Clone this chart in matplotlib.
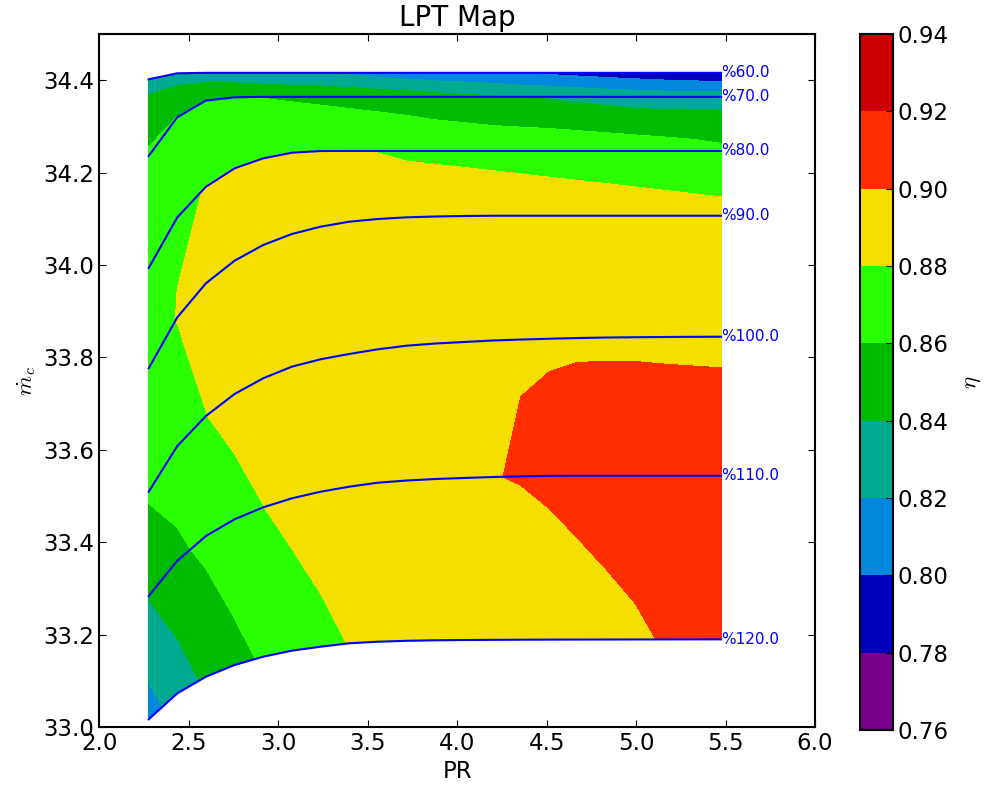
import numpy as np
import matplotlib
matplotlib.use('Agg')
import matplotlib.pyplot as plt

plt.rcParams['font.size'] = 16.5
plt.rcParams['mathtext.fontset'] = 'cm'
plt.rcParams['xtick.direction'] = 'in'
plt.rcParams['ytick.direction'] = 'in'
plt.rcParams['xtick.top'] = True
plt.rcParams['ytick.right'] = True
plt.rcParams['xtick.major.size'] = 5
plt.rcParams['ytick.major.size'] = 5
plt.rcParams['axes.linewidth'] = 1.5

# puntos de cada linea de velocidad (PR comun para todas)
PR = [2.275, 2.435, 2.595, 2.755, 2.915, 3.075, 3.235, 3.395, 3.555, 3.715, 3.875,
      4.035, 4.195, 4.355, 4.515, 4.675, 4.835, 4.995, 5.155, 5.315, 5.475]

speeds = [60.0, 70.0, 80.0, 90.0, 100.0, 110.0, 120.0]

mc_60 = [34.402, 34.415, 34.416, 34.416, 34.416, 34.416, 34.416, 34.416, 34.416, 34.416, 34.416,
         34.416, 34.416, 34.416, 34.416, 34.416, 34.416, 34.416, 34.416, 34.416, 34.416]
mc_70 = [34.236, 34.320, 34.356, 34.363, 34.364, 34.364, 34.364, 34.364, 34.364, 34.364, 34.364,
         34.364, 34.364, 34.364, 34.364, 34.364, 34.364, 34.364, 34.364, 34.364, 34.364]
mc_80 = [33.9935, 34.1032, 34.1695, 34.2093, 34.2309, 34.2431, 34.2468, 34.247, 34.247, 34.247, 34.247,
         34.247, 34.247, 34.247, 34.247, 34.247, 34.247, 34.247, 34.247, 34.247, 34.247]
mc_90 = [33.7764, 33.8868, 33.9604, 34.0093, 34.0433, 34.0671, 34.0829, 34.0937, 34.0996, 34.1032, 34.105,
         34.1061, 34.1067, 34.1067, 34.1067, 34.1067, 34.1067, 34.1067, 34.1067, 34.1067, 34.1067]
mc_100 = [33.5093, 33.6082, 33.6732, 33.7208, 33.7548, 33.7799, 33.7959, 33.8074, 33.8175, 33.8253, 33.8301,
          33.8333, 33.8366, 33.8387, 33.8405, 33.842, 33.8431, 33.8437, 33.8442, 33.8446, 33.8448]
mc_110 = [33.2835, 33.3600, 33.4134, 33.4496, 33.4755, 33.4950, 33.5093, 33.5201, 33.5288, 33.5335, 33.5368,
          33.5390, 33.5411, 33.5426, 33.5437, 33.5439, 33.5439, 33.5439, 33.5439, 33.5439, 33.5439]
mc_120 = [33.0167, 33.0729, 33.1089, 33.1342, 33.1522, 33.1652, 33.1738, 33.1812, 33.1846, 33.1866, 33.1877,
          33.1883, 33.1887, 33.189, 33.1892, 33.1893, 33.1894, 33.1895, 33.1896, 33.1897, 33.1898]

eff_60 = [.834, .832, .8285, .826, .8225, .8205, .8203, .8174, .8125, .809, .8065,
          .805, .8033, .7997, .797, .7945, .792, .7895, .787, .7845, .782]
eff_70 = [.8635, .8605, .8602, .8600, .8595, .8580, .8564, .8544, .8525, .8505, .847,
          .8445, .8415, .8398, .8385, .836, .8335, .8315, .8305, .831, .8315]
eff_80 = [.868, .8788, .8802, .8802, .8802, .8802, .8802, .8803, .8797, .8783, .8777,
          .8771, .8765, .8759, .8752, .8744, .8734, .8720, .8703, .8679, .8646]
eff_90 = [.8734, .8805, .8845, .8865, .888, .889, .8895, .89, .8898, .8895, .889,
          .8885, .888, .8875, .887, .8867, .8865, .8864, .8863, .8863, .8863]
eff_100 = [.8624, .8705, .8798, .8856, .888, .891, .893, .8945, .896, .897, .898,
           .8985, .8993, .89964, .89946, .89934, .89909, .89902, .89879, .89867, .89856]
eff_110 = [.8408, .8557, .865, .8738, .8798, .8854, .8885, .891, .893, .895, .897,
           .8985, .89969, .9005, .9017, .9031, .9043, .9046, .905, .905, .905]
eff_120 = [.8114, .8289, .8433, .8535, .8625, .869, .8755, .8804, .8822, .8841, .8859,
           .8877, .8895, .8914, .8932, .895, .8968, .8987, .9005, .9023, .9042]

levels = [0.76, 0.78, 0.80, 0.82, 0.84, 0.86, 0.88, 0.90, 0.92, 0.94]
colores = ['#770088', '#0000bb', '#0088dd', '#00aa90', '#00bb00',
           '#29ff00', '#f5df00', '#ff2e00', '#cc0000']

mc = np.array([mc_60, mc_70, mc_80, mc_90, mc_100, mc_110, mc_120])
eff = np.array([eff_60, eff_70, eff_80, eff_90, eff_100, eff_110, eff_120])
X = np.tile(np.array(PR), (len(speeds), 1))

fig = plt.figure(figsize=(9.85, 7.97), dpi=100)
ax = fig.add_axes([0.101, 0.0878, 0.7264, 0.8695])
cax = fig.add_axes([0.873, 0.084, 0.0335, 0.8735])

cs = ax.contourf(X, mc, eff, levels=levels, colors=colores)

# lineas de velocidad con su etiqueta
for k in range(len(speeds)):
    ax.plot(X[k], mc[k], 'b-', lw=1.5)
    ax.text(X[k][-1], mc[k][-1], '%' + str(speeds[k]), color='b', fontsize=11,
            ha='left', va='center')

ax.set_xlim(2.0, 6.0)
ax.set_ylim(33.0, 34.5)
ax.set_xticks(np.arange(2.0, 6.01, 0.5))
ax.set_yticks(np.arange(33.0, 34.41, 0.2))
ax.set_xlabel('PR')
ax.set_ylabel(r'$\dot{m}_c$')
ax.set_title('LPT Map', fontsize=20)

cb = fig.colorbar(cs, cax=cax)
cb.set_ticks(levels)
cb.set_label(r'$\eta$', labelpad=8)

plt.savefig('out.png', dpi=100)
